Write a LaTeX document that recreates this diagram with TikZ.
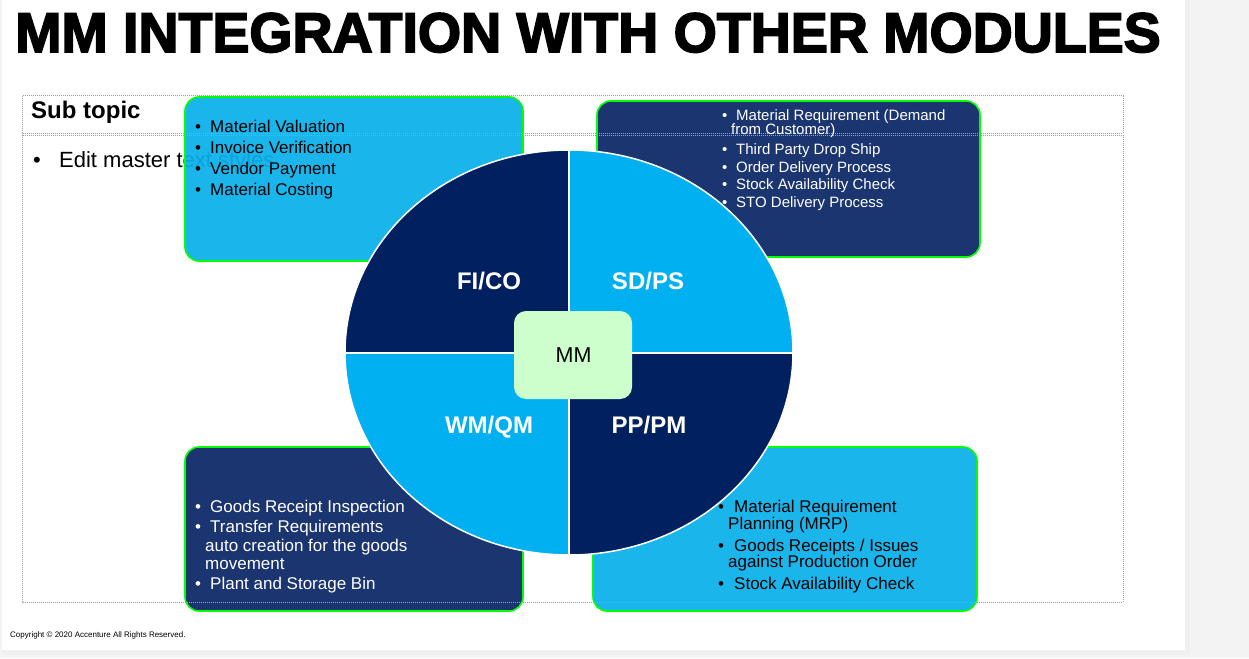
\documentclass[tikz,border=0pt]{standalone}
\usepackage{fontspec}
\usepackage{graphicx}
\setmainfont{Liberation Sans}
\newfontface\titleface{Liberation Sans Bold}[FakeBold=3]
\usetikzlibrary{calc}

\definecolor{navy}{HTML}{002060}
\definecolor{sky}{HTML}{00B0F0}
\definecolor{boxsky}{HTML}{09B1EA}
\definecolor{boxnavy}{HTML}{1B3571}
\definecolor{mint}{HTML}{CCFFCC}
\definecolor{edgegreen}{HTML}{00FF00}
\definecolor{pagebg}{HTML}{F3F3F3}

\newcommand{\bul}[1]{\makebox[#1][l]{\textbullet}}

\tikzset{
  placeholder/.style={draw=gray!75, line width=1pt, dash pattern=on 1pt off 1pt},
  infobox/.style={rounded corners=14pt, draw=edgegreen, line width=1.6pt, inner sep=0},
  lightbox/.style={infobox, fill=boxsky, fill opacity=0.93},
  darkbox/.style={infobox, fill=boxnavy},
  listtext/.style={anchor=base west, inner sep=0, align=left},
  quadlabel/.style={anchor=base, inner sep=0, text=white, font=\fontsize{24}{28}\selectfont\bfseries},
}

\begin{document}
\begin{tikzpicture}[x=1pt,y=-1pt]
\useasboundingbox (0,0) rectangle (1249,658);
% slide with its shadow
\fill[pagebg] (0,0) rectangle (1249,658);
\fill[black!10] (3,1) rectangle (1188,653);
\fill[black!6] (4,1) rectangle (1190,655);
\fill[white] (2,0) rectangle (1185,650);

% title
\node[anchor=base west, inner sep=0] (title) at (15,52)
  {\resizebox{1145pt}{39pt}{\titleface MM INTEGRATION WITH OTHER MODULES}};

% placeholder texts
\node[anchor=base west, inner sep=0, font=\fontsize{24}{28}\selectfont\bfseries] (sub) at (31,119) {Sub topic};
\node[anchor=base west, inner sep=0, font=\fontsize{22}{26}\selectfont] (edit) at (33,167) {\bul{26pt}Edit master text styles};

% the four module boxes
\node[lightbox, minimum width=338, minimum height=164] (boxtl) at (354,179) {};
\node[darkbox, minimum width=383, minimum height=156] (boxtr) at (788.5,179) {};
\node[darkbox, minimum width=338, minimum height=164] (boxbl) at (354,529) {};
\node[lightbox, minimum width=384, minimum height=164] (boxbr) at (785,529) {};

% placeholder frames
\draw[placeholder] (22,96) rectangle (1123,133);
\draw[placeholder] (22,135) rectangle (1123,602);

% box contents
\node[listtext, font=\fontsize{17}{21}\selectfont] (listtl) at (195,132)
  {\begin{tabular}[t]{@{}l@{}}
   \bul{15pt}Material Valuation\\
   \bul{15pt}Invoice Verification\\
   \bul{15pt}Vendor Payment\\
   \bul{15pt}Material Costing
   \end{tabular}};

\node[listtext, text=white, font=\fontsize{15}{17.5}\selectfont] (listtr) at (722,121)
  {\begin{tabular}[t]{@{}l@{}}
   \bul{14pt}Material Requirement (Demand\\[-3.5pt]
   \hspace{9pt}from Customer)\\[2.5pt]
   \bul{14pt}Third Party Drop Ship\\
   \bul{14pt}Order Delivery Process\\
   \bul{14pt}Stock Availability Check\\
   \bul{14pt}STO Delivery Process
   \end{tabular}};

\node[listtext, text=white, font=\fontsize{17}{19}\selectfont] (listbl) at (195,512)
  {\begin{tabular}[t]{@{}l@{}}
   \bul{15pt}Goods Receipt Inspection\\[1pt]
   \bul{15pt}Transfer Requirements\\
   \hspace{10pt}auto creation for the goods\\[-1pt]
   \hspace{10pt}movement\\[1pt]
   \bul{15pt}Plant and Storage Bin
   \end{tabular}};

\node[listtext, font=\fontsize{17}{19}\selectfont] (listbr) at (718,512)
  {\begin{tabular}[t]{@{}l@{}}
   \bul{16pt}Material Requirement\\[-1.5pt]
   \hspace{10pt}Planning (MRP)\\[2.5pt]
   \bul{16pt}Goods Receipts / Issues\\[-3pt]
   \hspace{10pt}against Production Order\\[3pt]
   \bul{16pt}Stock Availability Check
   \end{tabular}};

% the module wheel
\coordinate (c) at (569,352.5);
\fill[navy] (c) -- ++(-224,0) arc[start angle=180, end angle=270, x radius=224, y radius=202.5] -- cycle;
\fill[sky]  (c) -- ++(0,-202.5) arc[start angle=270, end angle=360, x radius=224, y radius=202.5] -- cycle;
\fill[navy] (c) -- ++(224,0) arc[start angle=0, end angle=90, x radius=224, y radius=202.5] -- cycle;
\fill[sky]  (c) -- ++(0,202.5) arc[start angle=90, end angle=180, x radius=224, y radius=202.5] -- cycle;
\draw[white, line width=2pt] (569,150) -- (569,555);
\draw[white, line width=2pt] (345,352.5) -- (793,352.5);
\draw[white, line width=1.5pt] (c) ellipse[x radius=224, y radius=202.5];

\node[quadlabel] (fico) at (489,289) {FI/CO};
\node[quadlabel] (sdps) at (648,289) {SD/PS};
\node[quadlabel] (wmqm) at (489,433) {WM/QM};
\node[quadlabel] (pppm) at (649,433) {PP/PM};

% hub
\node[fill=mint, rounded corners=12pt, minimum width=118, minimum height=88, inner sep=0] (mm) at (573,355) {};
\node[anchor=base, inner sep=0, font=\fontsize{21.5}{24}\selectfont] (mmlabel) at (573.5,362) {MM};

% footer
\node[anchor=base west, inner sep=0, font=\fontsize{8}{9}\selectfont] (copy) at (10,637) {Copyright \textcopyright{} 2020 Accenture All Rights Reserved.};
\end{tikzpicture}
\end{document}
